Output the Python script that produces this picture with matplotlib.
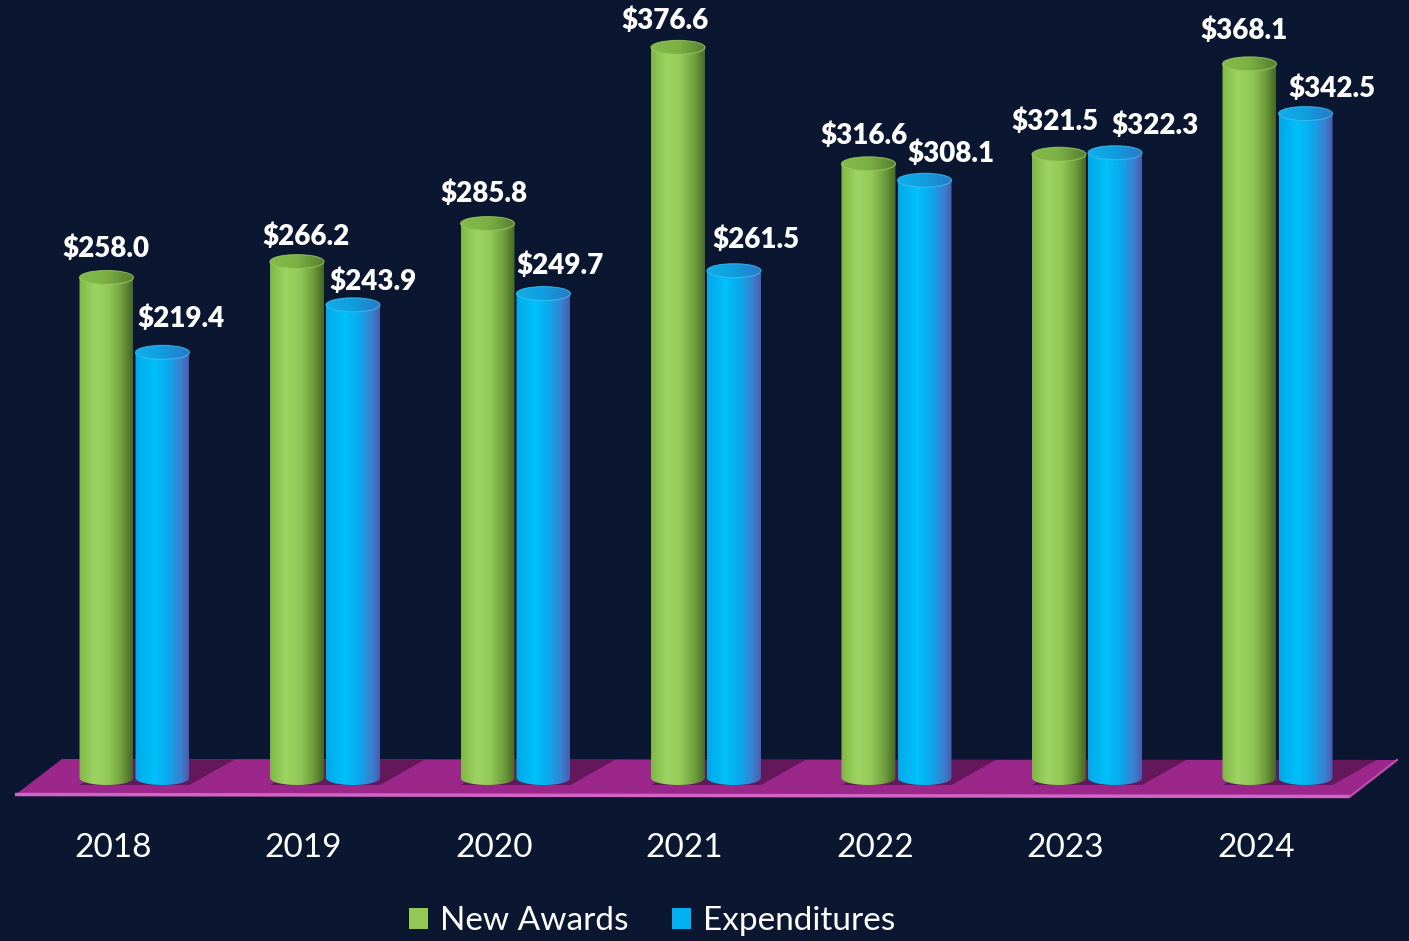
import numpy as np
import matplotlib
matplotlib.use('Agg')
import matplotlib.pyplot as plt
from matplotlib.patches import Ellipse, Polygon, Patch
from matplotlib.colors import LinearSegmentedColormap

# ---------------- data ----------------
years = ['2018', '2019', '2020', '2021', '2022', '2023', '2024']
new_awards = [258.0, 266.2, 285.8, 376.6, 316.6, 321.5, 368.1]
expenditures = [219.4, 243.9, 249.7, 261.5, 308.1, 322.3, 342.5]
series_names = ['New Awards', 'Expenditures']

# ---------------- style ----------------
BG = '#0b1631'
W, H = 1409, 941
PX_X = 190.5          # pixels per category
PX_Y = 1.94           # pixels per value unit
X0_PX, Y0_PX = 134.5, 778

# label nudges in pixels (dx, dy above bar top)
green_dx = [-1, 9, -4, -13, -4, -4, -5]
green_dy = [34, 30, 35, 32, 33, 38, 38]
blue_dx = [19, 20, 17, 22, 26, 40, 26]
blue_dy = [39, 28, 33, 36, 32, 32, 30]
LABEL_SHIFT = -5      # compensate text-box centring

green_body = LinearSegmentedColormap.from_list('gb', [
    (0.0, '#7fb744'), (0.3, '#9ed463'), (0.55, '#93c957'),
    (0.8, '#6e9e3b'), (1.0, '#456628')])
green_top = LinearSegmentedColormap.from_list('gt', [
    (0.0, '#84bb4a'), (0.5, '#7cb045'), (1.0, '#557f2e')])
blue_body = LinearSegmentedColormap.from_list('bb', [
    (0.0, '#00a9e8'), (0.35, '#00c0fa'), (0.6, '#0aaaee'),
    (0.85, '#3b80d0'), (1.0, '#4a5bb0')])
blue_top = LinearSegmentedColormap.from_list('bt', [
    (0.0, '#12ade8'), (0.5, '#0f9edf'), (1.0, '#2a78c6')])

plt.rcParams['font.family'] = ['Lato', 'DejaVu Sans']

fig = plt.figure(figsize=(W / 100, H / 100), dpi=100, facecolor=BG)
ax = fig.add_axes([0, 0, 1, 1])
ax.set_facecolor(BG)
ax.set_autoscale_on(False)
ax.set_xlim(-X0_PX / PX_X, (W - X0_PX) / PX_X)
ax.set_ylim(-(H - Y0_PX) / PX_Y, Y0_PX / PX_Y)
ax.axis('off')

bar_w = 54 / PX_X
off = 28 / PX_X
eh = 14 / PX_Y


def pxfig(px, py):
    return (px / W, 1 - py / H)


# ---------------- floor ----------------
floor = Polygon([pxfig(15, 795), pxfig(62, 759), pxfig(1397, 760), pxfig(1350, 797)],
                closed=True, transform=ax.transAxes, facecolor='#9b278b',
                edgecolor='none', zorder=1)
ax.add_patch(floor)
ax.plot([15 / W, 1350 / W], [1 - 794.5 / H, 1 - 796.5 / H], transform=ax.transAxes,
        color='#d463c6', lw=2.5, solid_capstyle='butt', zorder=1.5)
ax.plot([1350 / W, 1397 / W], [1 - 796.5 / H, 1 - 760 / H], transform=ax.transAxes,
        color='#c14fb2', lw=1.5, zorder=1.5)

# shadows on the floor
back = 9.5
for i in range(len(years)):
    gx0 = i - off - bar_w / 2
    bx1 = i + off + bar_w / 2
    d = 45 / PX_X
    sh = Polygon([(gx0, -eh / 2), (bx1, -eh / 2), (bx1 + d, back), (gx0 + d, back)],
                 closed=True, facecolor='#3a0a35', edgecolor='none', alpha=0.55, zorder=2)
    ax.add_patch(sh)

grad = np.linspace(0, 1, 256)[None, :]


def cylinder(xc, val, body_cmap, top_cmap, rim, z):
    x0, x1 = xc - bar_w / 2, xc + bar_w / 2
    t = np.linspace(np.pi, 2 * np.pi, 80)
    bx = xc + (bar_w / 2) * np.cos(t)
    by = (eh / 2) * np.sin(t)
    verts = [(x0, val)] + list(zip(bx, by)) + [(x1, val)]
    body = Polygon(verts, closed=True, facecolor='none', edgecolor='none', zorder=z)
    ax.add_patch(body)
    im = ax.imshow(grad, cmap=body_cmap, extent=[x0, x1, -eh / 2, val],
                   aspect='auto', interpolation='bilinear', zorder=z)
    im.set_clip_path(body)
    top = Ellipse((xc, val), bar_w, eh, facecolor='none', edgecolor='none', zorder=z + 0.1)
    ax.add_patch(top)
    im2 = ax.imshow(grad, cmap=top_cmap, extent=[x0, x1, val - eh / 2, val + eh / 2],
                    aspect='auto', interpolation='bilinear', zorder=z + 0.1)
    im2.set_clip_path(top)
    ax.add_patch(Ellipse((xc, val), bar_w, eh, facecolor='none', edgecolor=rim,
                         lw=0.8, alpha=0.8, zorder=z + 0.2))


for i, (g, b) in enumerate(zip(new_awards, expenditures)):
    cylinder(i - off, g, green_body, green_top, '#9acb60', 3)
    cylinder(i + off, b, blue_body, blue_top, '#3cc0f0', 4)

# value labels
for i, (g, b) in enumerate(zip(new_awards, expenditures)):
    ax.text(i - off + green_dx[i] / PX_X, g + (green_dy[i] + LABEL_SHIFT) / PX_Y,
            f'${g:.1f}', ha='center', va='center', color='white', fontsize=20,
            fontweight='heavy', zorder=10)
    ax.text(i + off + blue_dx[i] / PX_X, b + (blue_dy[i] + LABEL_SHIFT) / PX_Y,
            f'${b:.1f}', ha='center', va='center', color='white', fontsize=20,
            fontweight='heavy', zorder=10)

# category labels
for i, yr in enumerate(years):
    ax.text(i - 21.5 / PX_X, (Y0_PX - 848) / PX_Y, yr, ha='center', va='center',
            color='white', fontsize=24, zorder=10)

# legend
handles = [Patch(facecolor='#92c853', edgecolor='none'),
           Patch(facecolor='#00b0f0', edgecolor='none')]
fig.legend(handles, series_names, loc='center', bbox_to_anchor=(652 / W, 1 - 921 / H),
           ncol=2, frameon=False, fontsize=24, labelcolor='white',
           handlelength=0.58, handleheight=0.58, handletextpad=0.35,
           columnspacing=1.3)

fig.savefig('out.png', dpi=100, facecolor=BG)
